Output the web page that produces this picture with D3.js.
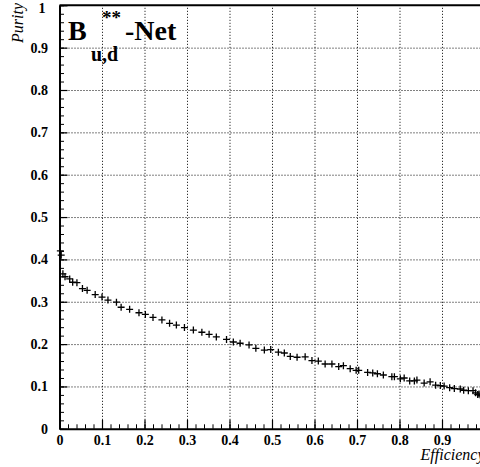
<!DOCTYPE html>
<html>
<head>
<meta charset="utf-8">
<script src="https://cdn.jsdelivr.net/npm/d3@7"></script>
<style>
  body { margin: 0; background: #fff; }
  .tick text { font-family: "Liberation Serif", "Times New Roman", serif; font-weight: bold; font-size: 14px; fill: #000; }
  .grid line { stroke: #000; stroke-width: 1; stroke-dasharray: 1,2; }
  .grid path { display: none; }
</style>
</head>
<body>
<div id="chart"></div>
<script>
// Data
let effX = [0.002, 0.004, 0.008, 0.013, 0.024, 0.031, 0.041, 0.054, 0.065, 0.084, 0.100, 0.114, 0.134, 0.145, 0.165, 0.187, 0.202,
  0.220, 0.241, 0.259, 0.275, 0.294, 0.315, 0.335, 0.352, 0.369, 0.393, 0.409, 0.425, 0.446, 0.462, 0.482, 0.497, 0.515, 0.529,
  0.543, 0.559, 0.578, 0.594, 0.609, 0.625, 0.641, 0.657, 0.668, 0.684, 0.698, 0.704, 0.725, 0.737, 0.748, 0.762, 0.782, 0.788,
  0.802, 0.811, 0.824, 0.835, 0.841, 0.858, 0.872, 0.885, 0.896, 0.905, 0.918, 0.929, 0.943, 0.951, 0.962, 0.973, 0.979, 0.984,
  0.987, 0.990, 0.993, 0.996, 1.0];
let purY = [0.420, 0.410, 0.366, 0.359, 0.354, 0.346, 0.345, 0.331, 0.327, 0.317, 0.311, 0.304, 0.299, 0.287, 0.282, 0.274, 0.270,
  0.263, 0.257, 0.249, 0.245, 0.239, 0.233, 0.228, 0.223, 0.217, 0.211, 0.205, 0.202, 0.198, 0.190, 0.186, 0.187, 0.181, 0.179,
  0.171, 0.169, 0.170, 0.161, 0.160, 0.153, 0.153, 0.147, 0.149, 0.142, 0.138, 0.138, 0.133, 0.132, 0.130, 0.127, 0.123, 0.123,
  0.118, 0.120, 0.113, 0.113, 0.115, 0.108, 0.111, 0.103, 0.102, 0.101, 0.097, 0.095, 0.094, 0.091, 0.090, 0.090, 0.085, 0.081,
  0.082, 0.080, 0.079, 0.078, 0.077];

let tickValues = [0, 0.1, 0.2, 0.3, 0.4, 0.5, 0.6, 0.7, 0.8, 0.9, 1];
let tickLabels = ["0", "0.1", "0.2", "0.3", "0.4", "0.5", "0.6", "0.7", "0.8", "0.9", "1"];
let minorValues = d3.range(0, 51).map(i => i / 50);

let svgWidth = 480;
let svgHeight = 467;

let svg = d3.select("#chart")
  .append("svg")
  .attr("width", svgWidth)
  .attr("height", svgHeight);

let x = d3.scaleLinear().domain([0, 1]).range([59.5, 484.5]);
let y = d3.scaleLinear().domain([0, 1]).range([428.8, 5.3]);
let plotH = y(0) - y(1);
let plotW = x(1) - x(0);

// dotted grid
svg.append("g")
  .attr("class", "grid")
  .attr("transform", `translate(0, ${y(0)})`)
  .call(d3.axisBottom(x).tickValues(tickValues.slice(1, 10)).tickSize(-plotH).tickFormat(""));

svg.append("g")
  .attr("class", "grid")
  .attr("transform", `translate(${x(0)}, 0)`)
  .call(d3.axisLeft(y).tickValues(tickValues.slice(1, 10)).tickSize(-plotW).tickFormat(""));

// minor ticks
svg.append("g")
  .attr("transform", `translate(0, ${y(0)})`)
  .call(d3.axisBottom(x).tickValues(minorValues).tickSize(-4.5).tickFormat(""))
  .call(g => g.select(".domain").remove());

svg.append("g")
  .attr("transform", `translate(${x(0)}, 0)`)
  .call(d3.axisLeft(y).tickValues(minorValues).tickSize(-4.5).tickFormat(""))
  .call(g => g.select(".domain").remove());

// major axes
let xAxis = svg.append("g")
  .attr("transform", `translate(0, ${y(0)})`)
  .call(d3.axisBottom(x).tickValues(tickValues).tickSize(-9).tickSizeOuter(0).tickPadding(6)
    .tickFormat((d, i) => tickLabels[i]));

let yAxis = svg.append("g")
  .attr("transform", `translate(${x(0)}, 0)`)
  .call(d3.axisLeft(y).tickValues(tickValues).tickSize(-8).tickSizeOuter(0).tickPadding(11.5)
    .tickFormat((d, i) => tickLabels[i]));

svg.selectAll(".domain").attr("stroke-width", 2);
xAxis.selectAll(".tick line").attr("stroke-width", 1.2);
yAxis.selectAll(".tick line").attr("stroke-width", 1.2);
// top label sits a bit lower, like the original
yAxis.selectAll(".tick text").filter(d => d === 1).attr("dy", "0.5em").attr("x", -14);

// top frame
svg.append("line")
  .attr("x1", x(0)).attr("x2", x(1))
  .attr("y1", y(1)).attr("y2", y(1))
  .attr("stroke", "#000")
  .attr("stroke-width", 2);

// markers
svg.append("g")
  .selectAll("path")
  .data(effX.map((d, i) => [d, purY[i]]))
  .enter()
  .append("path")
  .attr("transform", d => `translate(${x(d[0])}, ${y(d[1])})`)
  .attr("d", "M-3.5,0H3.5M0,-3.5V3.5")
  .attr("stroke", "#000")
  .attr("stroke-width", 1.3)
  .attr("fill", "none");

// axis titles
svg.append("text")
  .attr("transform", "translate(23, 3) rotate(-90)")
  .attr("text-anchor", "end")
  .style("font-family", "Liberation Serif, serif")
  .style("font-style", "italic")
  .style("font-size", "16px")
  .text("Purity");

svg.append("text")
  .attr("x", x(1))
  .attr("y", 460)
  .attr("text-anchor", "end")
  .style("font-family", "Liberation Serif, serif")
  .style("font-style", "italic")
  .style("font-size", "16px")
  .text("Efficiency");

// title B**_{u,d}-Net
let title = svg.append("g")
  .style("font-family", "Liberation Serif, serif")
  .style("font-weight", "bold");
title.append("text").attr("x", 68).attr("y", 40).style("font-size", "28px").text("B");
title.append("text").attr("x", 102).attr("y", 24).style("font-size", "19px").text("**");
title.append("text").attr("x", 91).attr("y", 61).style("font-size", "20px").text("u,d");
title.append("text").attr("x", 125).attr("y", 40).style("font-size", "28px").text("-Net");
</script>
</body>
</html>
